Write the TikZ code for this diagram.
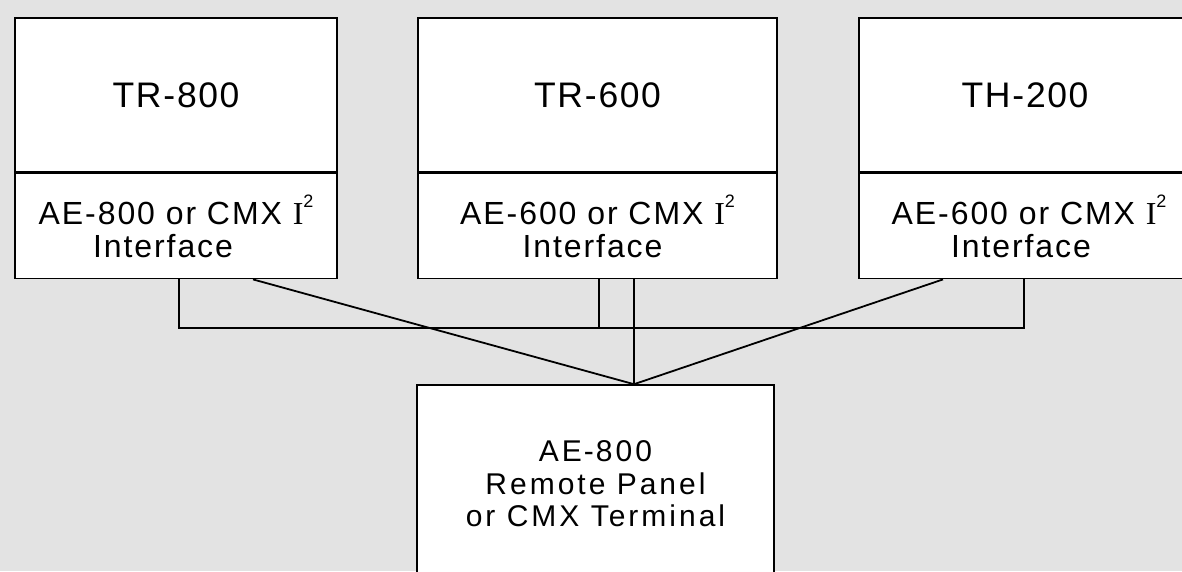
\documentclass[tikz,border=0pt]{standalone}
\usepackage{fontspec}
\setmainfont{Liberation Sans}
\newfontfamily\titlefont[LetterSpace=4]{Liberation Sans}
\newfontfamily\iffont[LetterSpace=6]{Liberation Sans}
\newfontfamily\rpfont[LetterSpace=10]{Liberation Sans}
\newfontfamily\serifI{Liberation Serif}
\newcommand{\hy}{\kern2pt-\kern2pt}
\newcommand{\Isq}{{\serifI I}\raisebox{1.0ex}{\fontsize{18}{18}\selectfont 2}}
\usetikzlibrary{calc}
\begin{document}
\begin{tikzpicture}[x=1pt,y=-1pt,
  box/.style={draw=black, fill=white, line width=1.6pt, inner sep=0pt, align=center},
  unitbox/.style={box, minimum height=154pt, font=\fontsize{35.5}{40}\titlefont},
  ifbox/.style={box, minimum height=105pt, font=\fontsize{32}{33}\iffont},
  rpbox/.style={box, font=\fontsize{30}{32.5}\rpfont},
  wire/.style={line width=1.2pt},
  diag/.style={line width=1.8pt}]
\clip (0,0) rectangle (1182,571);
\useasboundingbox (0,0) rectangle (1182,571);
\fill[black!11] (0,0) rectangle (1182,571);

% units
\node[unitbox, minimum width=322pt] (unitL) at (176,95) {TR\hy 800};
\node[ifbox, minimum width=322pt, anchor=north] (ifL) at (unitL.south) {AE\hy 800 or CMX \Isq\\Interface\kern26pt};
\node[unitbox, minimum width=359pt] (unitM) at (597.5,95) {TR\hy 600};
\node[ifbox, minimum width=359pt, anchor=north] (ifM) at (unitM.south) {AE\hy 600 or CMX \Isq\\Interface\kern10pt};
\node[unitbox, minimum width=332pt] (unitR) at (1025,95) {TH\hy 200};
\node[ifbox, minimum width=332pt, anchor=north] (ifR) at (unitR.south) {\kern8pt AE\hy 600 or CMX \Isq\\Interface\kern8pt};

% remote panel
\node[rpbox, minimum width=357pt, minimum height=198pt] (rp) at (595.5,484) {AE\hy 800\\Remote Panel\\or CMX Terminal};

% connectors
\coordinate (busL) at (179,328);
\coordinate (busR) at (1024,328);
\coordinate (m1) at (599,328);
\coordinate (dL) at (253,0);
\coordinate (dR) at (943,0);
\coordinate (jx) at (634,0);
\coordinate (J) at (rp.north -| jx);
\draw[wire] (ifL.south -| busL) -- (busL) -- (busR) -- (ifR.south -| busR);
\draw[wire] (ifM.south -| m1) -- (m1);
\draw[wire] (ifM.south -| jx) -- (J);
\draw[diag] (ifL.south -| dL) -- (J) -- (ifR.south -| dR);
\end{tikzpicture}
\end{document}
